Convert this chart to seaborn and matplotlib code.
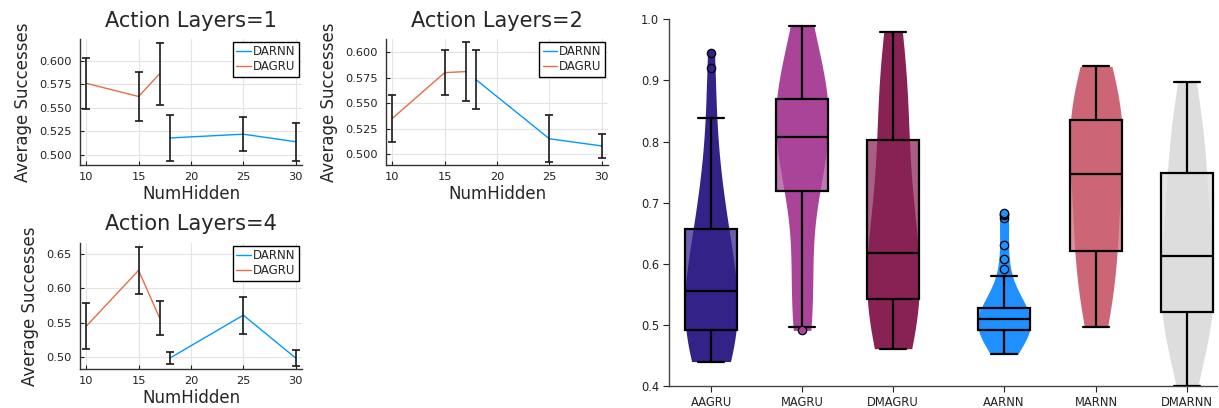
import numpy as np
import pandas as pd
import matplotlib
matplotlib.use("Agg")
import matplotlib.pyplot as plt
import seaborn as sns

sns.set_theme(style="white")
plt.rcParams["font.family"] = ["DejaVu Sans"]

# ---------------- left panels data ----------------
hidden_dagru = [10, 15, 17]
hidden_darnn = [18, 25, 30]

dagru_mean_l1 = [0.576, 0.562, 0.586]
dagru_err_l1 = [0.027, 0.026, 0.033]
darnn_mean_l1 = [0.518, 0.522, 0.514]
darnn_err_l1 = [0.024, 0.018, 0.020]

dagru_mean_l2 = [0.535, 0.580, 0.581]
dagru_err_l2 = [0.023, 0.022, 0.029]
darnn_mean_l2 = [0.573, 0.515, 0.508]
darnn_err_l2 = [0.029, 0.023, 0.012]

dagru_mean_l4 = [0.545, 0.626, 0.557]
dagru_err_l4 = [0.033, 0.034, 0.025]
darnn_mean_l4 = [0.499, 0.561, 0.499]
darnn_err_l4 = [0.008, 0.027, 0.011]

# ---------------- right panel data ----------------
group_names = ["AAGRU", "MAGRU", "DMAGRU", "AARNN", "MARNN", "DMARNN"]
group_colors = ["#332288", "#AA4499", "#882255", "#1E90FF", "#CC6677", "#DDDDDD"]

aagru = [0.440, 0.446, 0.452, 0.458, 0.463, 0.470, 0.476, 0.483, 0.491, 0.497,
         0.503, 0.510, 0.518, 0.526, 0.535, 0.545, 0.556, 0.566, 0.577, 0.588,
         0.600, 0.614, 0.628, 0.642, 0.657, 0.672, 0.690, 0.712, 0.740, 0.780,
         0.838, 0.921, 0.945]
magru = [0.491, 0.497, 0.520, 0.533, 0.543, 0.553, 0.566, 0.640, 0.719, 0.735,
         0.750, 0.762, 0.772, 0.782, 0.791, 0.800, 0.808, 0.816, 0.824, 0.832,
         0.840, 0.847, 0.854, 0.861, 0.869, 0.876, 0.885, 0.895, 0.907, 0.920,
         0.938, 0.960, 0.989]
dmagru = [0.461, 0.470, 0.479, 0.488, 0.497, 0.506, 0.515, 0.527, 0.542, 0.552,
          0.562, 0.572, 0.582, 0.592, 0.600, 0.608, 0.617, 0.632, 0.652, 0.675,
          0.700, 0.725, 0.752, 0.778, 0.802, 0.826, 0.850, 0.872, 0.895, 0.918,
          0.940, 0.960, 0.979]
aarnn = [0.452, 0.462, 0.469, 0.474, 0.478, 0.481, 0.484, 0.486, 0.488, 0.4895,
         0.491, 0.493, 0.495, 0.497, 0.499, 0.501, 0.503, 0.505, 0.506, 0.508,
         0.510, 0.512, 0.513, 0.515, 0.517, 0.519, 0.521, 0.523, 0.525, 0.5265,
         0.528, 0.536, 0.552, 0.580, 0.591, 0.607, 0.631, 0.675, 0.679, 0.681,
         0.683]
marnn = [0.496, 0.510, 0.526, 0.543, 0.560, 0.577, 0.593, 0.607, 0.621, 0.636,
         0.651, 0.666, 0.680, 0.694, 0.708, 0.728, 0.747, 0.760, 0.772, 0.783,
         0.794, 0.804, 0.815, 0.825, 0.835, 0.845, 0.855, 0.865, 0.875, 0.886,
         0.898, 0.910, 0.923]
dmarnn = [0.400, 0.440, 0.468, 0.485, 0.497, 0.504, 0.510, 0.516, 0.521, 0.530,
          0.540, 0.551, 0.562, 0.574, 0.587, 0.600, 0.612, 0.627, 0.643, 0.660,
          0.677, 0.695, 0.713, 0.731, 0.748, 0.763, 0.778, 0.794, 0.810, 0.828,
          0.848, 0.870, 0.897]
group_positions = [0.0, 1.0, 2.0, 3.22, 4.23, 5.23]

# ---------------- figure ----------------
fig = plt.figure(figsize=(12.19, 4.08), dpi=100)
ax1 = fig.add_axes([0.0656, 0.5949, 0.1821, 0.3095])
ax2 = fig.add_axes([0.3167, 0.5949, 0.1821, 0.3095])
ax3 = fig.add_axes([0.0656, 0.0948, 0.1821, 0.3103])
ax4 = fig.add_axes([0.5488, 0.0539, 0.4496, 0.8988])

C_DARNN = "#009AFA"
C_DAGRU = "#E36F47"

panels = [
    (ax1, "Action Layers=1", darnn_mean_l1, darnn_err_l1, dagru_mean_l1, dagru_err_l1,
     (0.489, 0.623), [0.500, 0.525, 0.550, 0.575, 0.600], "%.3f"),
    (ax2, "Action Layers=2", darnn_mean_l2, darnn_err_l2, dagru_mean_l2, dagru_err_l2,
     (0.489, 0.613), [0.500, 0.525, 0.550, 0.575, 0.600], "%.3f"),
    (ax3, "Action Layers=4", darnn_mean_l4, darnn_err_l4, dagru_mean_l4, dagru_err_l4,
     (0.4826, 0.666), [0.50, 0.55, 0.60, 0.65], "%.2f"),
]

for ax, title, rm, re, gm, ge, ylim, yt, fmt in panels:
    sns.lineplot(x=hidden_darnn, y=rm, color=C_DARNN, linewidth=1.0, label="DARNN", ax=ax)
    sns.lineplot(x=hidden_dagru, y=gm, color=C_DAGRU, linewidth=1.0, label="DAGRU", ax=ax)
    ax.errorbar(hidden_darnn, rm, yerr=re, fmt="none", ecolor="#1a1a1a", elinewidth=1.2,
                capsize=3.2, capthick=1.2, zorder=3)
    ax.errorbar(hidden_dagru, gm, yerr=ge, fmt="none", ecolor="#1a1a1a", elinewidth=1.2,
                capsize=3.2, capthick=1.2, zorder=3)
    ax.set_xlim(9.4, 30.6)
    ax.set_ylim(*ylim)
    ax.set_xticks([10, 15, 20, 25, 30])
    ax.set_yticks(yt)
    ax.set_yticklabels([fmt % v for v in yt])
    ax.grid(True, color="#e4e4e4", linewidth=0.8)
    ax.tick_params(direction="in", length=3, width=0.8, labelsize=8.2, colors="#222222",
                   bottom=True, left=True)
    ax.tick_params(axis="y", pad=6)
    ax.tick_params(axis="x", pad=5)
    for s in ["top", "right"]:
        ax.spines[s].set_visible(False)
    for s in ["left", "bottom"]:
        ax.spines[s].set_color("#333333")
        ax.spines[s].set_linewidth(1.0)
    ax.set_title(title, fontsize=15, pad=9)
    ax.set_xlabel("NumHidden", fontsize=12, labelpad=2)
    ax.set_ylabel("Average Successes", fontsize=12, labelpad=5)
    leg = ax.legend(loc="upper right", frameon=True, fancybox=False, edgecolor="black",
                    fontsize=8.5, handlelength=1.2, handletextpad=0.2, borderpad=0.3,
                    labelspacing=0.15, borderaxespad=0.25, framealpha=1)
    leg.get_frame().set_linewidth(1.0)

# ---------------- violin + box panel ----------------
samples = [aagru, magru, dmagru, aarnn, marnn, dmarnn]
rows = []
for name, pos, vals in zip(group_names, group_positions, samples):
    for v in vals:
        rows.append((name, pos, v))
df = pd.DataFrame(rows, columns=["group", "pos", "val"])
palette = dict(zip(group_names, group_colors))

sns.violinplot(data=df, x="pos", y="val", hue="group", hue_order=group_names,
               palette=palette, native_scale=True, cut=0, inner=None,
               density_norm="width", width=0.58, linewidth=0, saturation=1,
               bw_adjust=1.3, dodge=False, legend=False, ax=ax4)
sns.boxplot(data=df, x="pos", y="val", hue="group", hue_order=group_names,
            palette=palette, native_scale=True, width=0.58, linewidth=1.6,
            linecolor="black", saturation=1, dodge=False, legend=False,
            flierprops=dict(marker="o", markersize=6, markeredgecolor="black",
                            markeredgewidth=0.9),
            ax=ax4)

for p in ax4.patches:
    fc = p.get_facecolor()
    p.set_facecolor((fc[0], fc[1], fc[2], 0.72))
    p.set_zorder(3)
for ln in ax4.lines:
    ln.set_zorder(4)
    xd = np.asarray(ln.get_xdata(), dtype=float)
    if ln.get_marker() == "o" and len(xd):
        i = int(np.argmin([abs(np.mean(xd) - q) for q in group_positions]))
        ln.set_markerfacecolor(group_colors[i])

ax4.set_xlim(-0.462, 5.56)
ax4.set_ylim(0.4, 1.0)
ax4.set_xticks(group_positions)
ax4.set_xticklabels(group_names)
yt4 = [0.4, 0.5, 0.6, 0.7, 0.8, 0.9, 1.0]
ax4.set_yticks(yt4)
ax4.set_yticklabels(["%.1f" % v for v in yt4])
ax4.set_xlabel("")
ax4.set_ylabel("")
ax4.tick_params(direction="out", length=4, width=0.8, labelsize=8.3, colors="#222222",
                bottom=True, left=True, pad=3)
for s in ["top", "right"]:
    ax4.spines[s].set_visible(False)
for s in ["left", "bottom"]:
    ax4.spines[s].set_color("#444444")
    ax4.spines[s].set_linewidth(1.0)

fig.savefig("out.png", dpi=100)
